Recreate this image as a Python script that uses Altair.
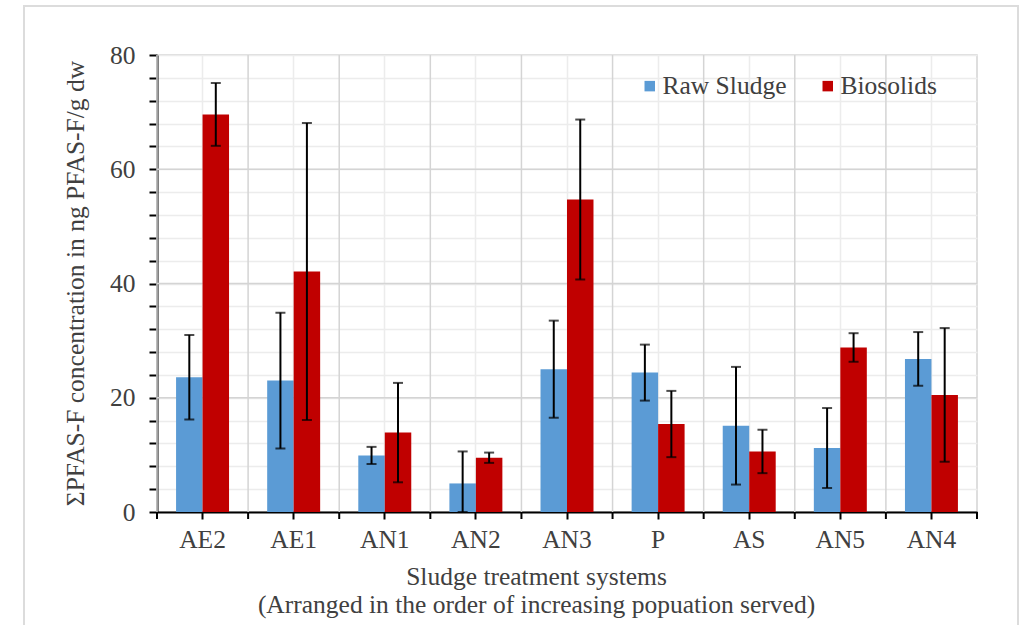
import altair as alt
import pandas as pd

# Sludge treatment systems, ordered by population served
systems = ["AE2", "AE1", "AN1", "AN2", "AN3", "P", "AS", "AN5", "AN4"]
series = ["Raw Sludge", "Biosolids"]

# Mean ΣPFAS-F (ng PFAS-F/g dw) and standard deviation
raw_mean = [23.6, 23.0, 9.9, 5.0, 25.0, 24.4, 15.1, 11.2, 26.8]
raw_sd = [7.4, 11.9, 1.5, 5.6, 8.5, 4.9, 10.3, 7.0, 4.7]
bio_mean = [69.6, 42.1, 13.9, 9.5, 54.7, 15.4, 10.6, 28.8, 20.5]
bio_sd = [5.5, 26.0, 8.7, 0.9, 14.0, 5.8, 3.8, 2.5, 11.7]

# y-axis: labelled major steps, minor steps every 4
y_major = [20, 40, 60]
y_minor = list(range(0, 81, 4))

rows = []
for s, m, sd in zip(systems, raw_mean, raw_sd):
    rows.append({"system": s, "series": series[0], "value": m, "sd": sd})
for s, m, sd in zip(systems, bio_mean, bio_sd):
    rows.append({"system": s, "series": series[1], "value": m, "sd": sd})
df = pd.DataFrame(rows)
cats = pd.DataFrame({"system": systems})
majors = pd.DataFrame({"value": y_major})

FONT = "Liberation Serif"
FS = 25.5
TEXT = "#404040"
GRID_MAJOR = "#d4d4d4"
GRID_MINOR = "#ececec"

x_scale = alt.Scale(domain=systems, paddingInner=0, paddingOuter=0)
off_scale = alt.Scale(paddingInner=0, paddingOuter=0.72)
y_scale = alt.Scale(domain=[0, 80], nice=False)

x_axis = alt.Axis(
    orient="bottom",
    labels=True, labelFont=FONT, labelFontSize=FS, labelColor=TEXT,
    labelPadding=8, labelAngle=0, labelAlign="center", labelOverlap=False,
    grid=True, gridColor=GRID_MINOR, gridWidth=1.5,
    domain=True, domainColor="black", domainWidth=2,
    ticks=True, tickColor="black", tickWidth=2, tickSize=7,
    title=["Sludge treatment systems",
           "(Arranged in the order of increasing popuation served)"],
    titleFont=FONT, titleFontSize=FS, titleFontWeight="normal",
    titleColor=TEXT, titleLineHeight=28, titleX=379, titleY=72,
    titleAlign="center", titleBaseline="alphabetic",
)
y_axis = alt.Axis(
    values=y_minor,
    labelExpr="datum.value % 20 === 0 ? datum.label : ''",
    labelOverlap=False,
    labelFont=FONT, labelFontSize=FS, labelColor=TEXT, labelPadding=14,
    grid=True, gridWidth=1.5, gridColor=GRID_MINOR,
    domain=True, domainColor="black", domainWidth=2,
    ticks=True, tickColor="black", tickWidth=2, tickSize=8,
    title="ΣPFAS-F concentration in ng PFAS-F/g dw",
    titleFont=FONT, titleFontSize=FS, titleFontWeight="normal",
    titleColor=TEXT, titleAngle=270, titleX=-82, titleY=228,
    titleAlign="center", titleBaseline="middle",
)


def xs(band=None):
    if band is None:
        return alt.X("system:N", sort=systems, scale=x_scale, axis=x_axis)
    return alt.X("system:N", sort=systems, scale=x_scale, axis=x_axis,
                 bandPosition=band)


def ys(field):
    return alt.Y(field, scale=y_scale, axis=y_axis)


y_bottom = alt.YDatum(0, scale=y_scale, axis=y_axis)
x_off = alt.XOffset("series:N", sort=series, scale=off_scale)

# darker vertical lines on the boundaries between systems
bound_grid = alt.Chart(cats).mark_rule(
    color=GRID_MAJOR, strokeWidth=1.5
).encode(x=xs(0), y=y_bottom, y2=alt.datum(80))

# axis ticks on those boundaries (left edge of every band, right edge of last)
bound_ticks = alt.Chart(cats).mark_rule(color="black", strokeWidth=2).encode(
    x=xs(0), y=alt.value(457), y2=alt.value(464)
)
end_tick = alt.Chart(cats).transform_filter(
    alt.datum.system == systems[-1]
).mark_rule(color="black", strokeWidth=2).encode(
    x=xs(1), y=alt.value(457), y2=alt.value(464)
)

# darker horizontal lines at the labelled steps
major_grid = alt.Chart(majors).mark_rule(
    color=GRID_MAJOR, strokeWidth=1.5
).encode(y=ys("value:Q"))

base = alt.Chart(df).transform_calculate(
    lo="max(0, datum.value - datum.sd)",
    hi="datum.value + datum.sd",
)

bars = base.mark_bar().encode(
    x=xs(),
    xOffset=x_off,
    y=ys("value:Q"),
    color=alt.Color(
        "series:N", sort=series,
        scale=alt.Scale(domain=series, range=["#5B9BD5", "#C00000"]),
        legend=alt.Legend(
            title=None, orient="none", direction="horizontal",
            legendX=480, legendY=18, padding=0,
            symbolType="square", symbolSize=110, symbolStrokeWidth=0,
            labelFont=FONT, labelFontSize=FS, labelColor=TEXT,
            labelOffset=0, columnPadding=28,
        ),
    ),
)

whiskers = base.mark_rule(color="black", strokeWidth=2).encode(
    x=xs(), xOffset=x_off, y=ys("lo:Q"), y2="hi:Q",
)
cap_hi = base.mark_tick(color="black", thickness=2, size=10).encode(
    x=xs(), xOffset=x_off, y=ys("hi:Q"),
)
cap_lo = base.mark_tick(color="black", thickness=2, size=10).encode(
    x=xs(), xOffset=x_off, y=ys("lo:Q"),
)

# light frame around the whole figure
frame = alt.Chart(pd.DataFrame({"k": [0]})).mark_rect(
    fill=None, stroke="#dcdcdc", strokeWidth=2
).encode(
    x=alt.value(-133), x2=alt.value(861),
    y=alt.value(-49), y2=alt.value(590),
)

chart = alt.layer(
    frame, bound_grid, major_grid, bars, bound_ticks, end_tick,
    whiskers, cap_hi, cap_lo,
).properties(
    width=820, height=457,
    autosize=alt.AutoSizeParams(type="none"),
    padding={"left": 157, "top": 55, "right": 45, "bottom": 113},
    background="white",
).configure_view(stroke=GRID_MAJOR, strokeWidth=1.5)

chart.save("out.html", embed_options={"renderer": "svg", "actions": False})
